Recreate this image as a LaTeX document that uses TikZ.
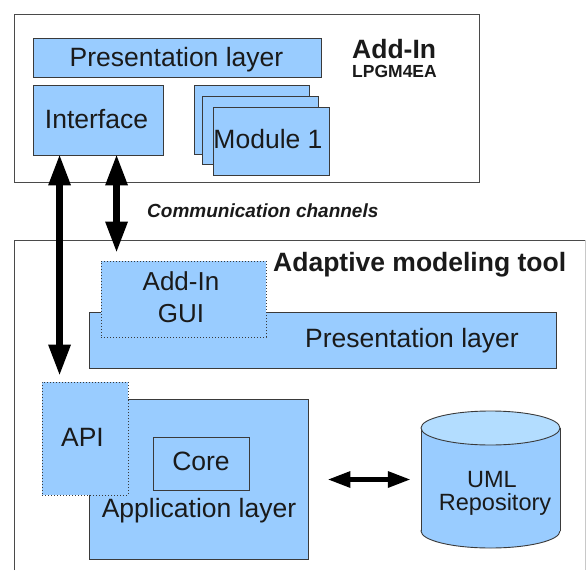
\documentclass[tikz,border=0pt]{standalone}
\usepackage{fontspec}
\setmainfont{Liberation Sans}
\usetikzlibrary{arrows.meta}
\definecolor{boxblue}{HTML}{99CCFF}
\definecolor{toplight}{HTML}{B3DDFF}
\definecolor{edge}{HTML}{3A3A3A}
\definecolor{frame}{HTML}{4A4A4A}
\definecolor{lightframe}{HTML}{C8C8C8}
\definecolor{ink}{HTML}{1A1A1A}
\begin{document}
\begin{tikzpicture}[x=1pt,y=-1pt,
  blk/.style={draw=edge,fill=boxblue,line width=0.9pt,inner sep=0pt},
  dotblk/.style={blk,dash pattern=on 1.2pt off 1.8pt},
  lbl/.style={inner sep=0pt,text=ink,anchor=base,font=\fontsize{26.5}{32}\selectfont},
  boldlbl/.style={inner sep=0pt,text=ink,anchor=base west},
  bigarrow/.style={line width=7pt,{Triangle[length=30pt,width=23pt,line width=0pt]}-{Triangle[length=30pt,width=23pt,line width=0pt]}},
  midarrow/.style={line width=4.5pt,{Triangle[length=22pt,width=17pt,line width=0pt]}-{Triangle[length=22pt,width=17pt,line width=0pt]}}
]
\useasboundingbox (0,0) rectangle (586,570);
\fill[white] (0,0) rectangle (586,570);

% ---- Add-In (top) ----
\node[draw=frame,line width=1pt,minimum width=465pt,minimum height=168pt,inner sep=0pt] (addin) at (246.5,98) {};
\node[blk,minimum width=288pt,minimum height=39pt] (pres1) at (177,57.5) {};
\node[lbl] (pres1t) at (176.5,66) {Presentation layer};
\node[boldlbl,font=\bfseries\fontsize{26.5}{30}\selectfont] (addint) at (352,58) {Add-In};
\node[boldlbl,font=\bfseries\fontsize{17.5}{20}\selectfont] (lpgm) at (352,77) {LPGM4EA};
\node[blk,minimum width=130pt,minimum height=70pt] (iface) at (98,120) {};
\node[lbl] (ifacet) at (96.5,128) {Interface};
\node[blk,minimum width=115pt,minimum height=69pt] (m3) at (251.5,119.5) {};
\node[blk,minimum width=116pt,minimum height=68pt] (m2) at (260,130) {};
\node[blk,minimum width=116pt,minimum height=68pt] (m1) at (271,141) {};
\node[lbl] (m1t) at (268,148) {Module 1};

% ---- Adaptive modeling tool (bottom) ----
\draw[frame,line width=1pt] (14,570) -- (14,240) -- (585,240);
\draw[lightframe,line width=1pt] (585,240) -- (585,570);
\node[boldlbl,font=\bfseries\fontsize{26.5}{30}\selectfont] (toolt) at (273,271) {Adaptive modeling tool};

\node[blk,minimum width=467pt,minimum height=56pt] (pres2) at (322.5,340) {};
\node[lbl] (pres2t) at (412,347) {Presentation layer};
\node[dotblk,minimum width=165pt,minimum height=76pt] (gui) at (183.5,299) {};
\node[lbl,font=\fontsize{26}{32}\selectfont] (guit1) at (181,290) {Add-In};
\node[lbl,font=\fontsize{26}{32}\selectfont] (guit2) at (181,322) {GUI};

\node[blk,minimum width=219pt,minimum height=160pt] (app) at (198.5,479) {};
\node[lbl] (appt) at (199,517) {Application layer};
\node[dotblk,minimum width=86pt,minimum height=113pt] (api) at (85,438.5) {};
\node[lbl] (apit) at (82.5,446) {API};
\node[blk,minimum width=96pt,minimum height=53pt] (core) at (201,463.5) {};
\node[lbl] (coret) at (201,470) {Core};

% ---- UML repository cylinder ----
\filldraw[fill=boxblue,draw=edge,line width=0.9pt] (490.5,531) ellipse (69.5pt and 17pt);
\fill[boxblue] (421,428) rectangle (560,531);
\draw[edge,line width=0.9pt] (421,428) -- (421,531) (560,428) -- (560,531);
\filldraw[fill=toplight,draw=edge,line width=0.9pt] (490.5,428) ellipse (69.5pt and 17pt);
\node[inner sep=0pt,minimum width=139pt,minimum height=103pt] (cyl) at (490.5,479.5) {};
\node[lbl,font=\fontsize{23.5}{28}\selectfont] (umlt) at (492,487) {UML};
\node[lbl,font=\fontsize{23.5}{28}\selectfont] (repot) at (495,510) {Repository};

% ---- connectors ----
\draw[bigarrow] ([xshift=27pt]iface.south west) -- ([xshift=18pt,yshift=7pt]api.north west);
\draw[bigarrow] ([xshift=84pt]iface.south west) -- ([xshift=16pt,yshift=9pt]gui.north west);
\node[boldlbl,font=\bfseries\itshape\fontsize{19}{22}\selectfont] (commt) at (147,217) {Communication channels};
\draw[midarrow] ([xshift=20pt,yshift=-0.5pt]app.east) -- ([xshift=-11pt]cyl.west);
\end{tikzpicture}
\end{document}
